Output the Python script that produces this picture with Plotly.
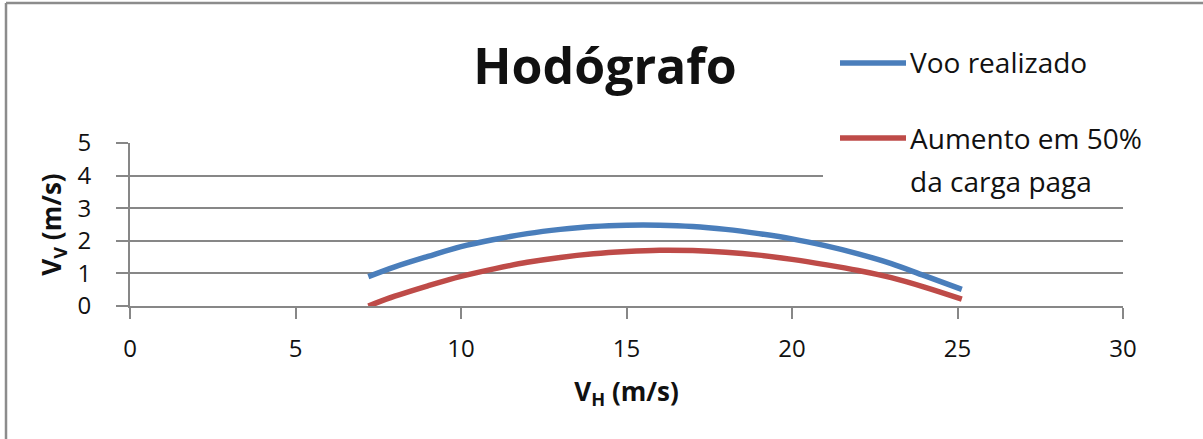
import plotly.graph_objects as go

# ---- data ----
vh_voo = [7.2, 8, 9, 10, 11, 12, 13, 14, 15, 16, 17, 18, 19, 20, 21, 22, 23, 24, 25.13]
vv_voo = [0.90, 1.20, 1.52, 1.82, 2.04, 2.22, 2.35, 2.44, 2.48, 2.48, 2.44, 2.35, 2.22, 2.06, 1.85, 1.60, 1.30, 0.93, 0.51]

vh_carga = [7.2, 8, 9, 10, 11, 12, 13, 14, 15, 16, 17, 18, 19, 20, 21, 22, 23, 24, 25.13]
vv_carga = [0.00, 0.30, 0.62, 0.91, 1.14, 1.34, 1.49, 1.60, 1.67, 1.71, 1.70, 1.65, 1.56, 1.43, 1.27, 1.09, 0.87, 0.58, 0.21]

series_names = ["Voo realizado", "Aumento em 50%", "da carga paga"]
x_ticks = [0, 5, 10, 15, 20, 25, 30]
y_ticks = [0, 1, 2, 3, 4, 5]

BLUE = "#4A7EBB"
RED = "#BE4B48"
GRID = "#878787"
FONT = "Open Sans"
TXT = "#111111"

W_FIG, H_FIG = 1203, 439
L, R, T, B = 130, 1123, 143, 306
PW, PH = R - L, B - T


def px(x):
    return (x - L) / PW


def py(y):
    return (B - y) / PH


fig = go.Figure()
fig.add_trace(go.Scatter(x=vh_voo, y=vv_voo, mode="lines", name=series_names[0],
                         line=dict(color=BLUE, width=5.5, shape="spline"), showlegend=False))
fig.add_trace(go.Scatter(x=vh_carga, y=vv_carga, mode="lines", name=series_names[1] + " " + series_names[2],
                         line=dict(color=RED, width=5.5, shape="spline"), showlegend=False))

shapes = [
    # white legend box covering gridlines
    dict(type="rect", xref="paper", yref="paper", x0=px(823), x1=px(1200), y0=py(192), y1=py(0),
         fillcolor="white", line=dict(width=0), layer="above"),
    # legend samples
    dict(type="line", xref="paper", yref="paper", x0=px(840), x1=px(906), y0=py(63), y1=py(63),
         line=dict(color=BLUE, width=5.5), layer="above"),
    dict(type="line", xref="paper", yref="paper", x0=px(840), x1=px(906), y0=py(138), y1=py(138),
         line=dict(color=RED, width=5.5), layer="above"),
    # chart-area border (left & top)
    dict(type="line", xref="paper", yref="paper", x0=px(6), x1=px(6), y0=py(3), y1=py(460),
         line=dict(color="#8c8c8c", width=2.5), layer="above"),
    dict(type="line", xref="paper", yref="paper", x0=px(6), x1=px(1220), y0=py(3), y1=py(3),
         line=dict(color="#8c8c8c", width=2.5), layer="above"),
]

annotations = [
    dict(text=series_names[0], xref="paper", yref="paper", x=px(908), y=py(62),
         xanchor="left", yanchor="middle", showarrow=False,
         font=dict(family=FONT, size=28, color=TXT)),
    dict(text=series_names[1], xref="paper", yref="paper", x=px(908), y=py(138),
         xanchor="left", yanchor="middle", showarrow=False,
         font=dict(family=FONT, size=28, color=TXT)),
    dict(text=series_names[2], xref="paper", yref="paper", x=px(908), y=py(181),
         xanchor="left", yanchor="middle", showarrow=False,
         font=dict(family=FONT, size=28, color=TXT)),
]

fig.update_layout(
    width=W_FIG, height=H_FIG,
    margin=dict(l=L, r=W_FIG - R, t=T, b=H_FIG - B, autoexpand=False),
    paper_bgcolor="white", plot_bgcolor="white",
    title=dict(text="<b>Hodógrafo</b>", x=605 / W_FIG, xanchor="center",
               y=(H_FIG - 66) / H_FIG, yanchor="middle",
               font=dict(family=FONT, size=50, color=TXT)),
    shapes=shapes, annotations=annotations, showlegend=False,
    font=dict(family=FONT, color=TXT),
)

fig.update_xaxes(
    range=[0, 30], tickvals=x_ticks, ticktext=[str(v) for v in x_ticks],
    showgrid=False, zeroline=False,
    showline=True, linecolor=GRID, linewidth=2,
    ticks="outside", ticklen=11, tickwidth=2, tickcolor=GRID,
    tickfont=dict(family=FONT, size=24, color=TXT), ticklabelstandoff=9,
    title=dict(text="<b>V<sub>H</sub> (m/s)</b>", standoff=20,
               font=dict(family=FONT, size=26, color=TXT)),
    automargin=False,
)
fig.update_yaxes(
    range=[0, 5], tickvals=y_ticks, ticktext=[str(v) for v in y_ticks],
    showgrid=True, gridcolor=GRID, gridwidth=2, zeroline=False,
    showline=True, linecolor=GRID, linewidth=2,
    ticks="outside", ticklen=12, tickwidth=2, tickcolor=GRID,
    tickfont=dict(family=FONT, size=24, color=TXT), ticklabelstandoff=20,
    title=dict(text="<b>V<sub>V</sub> (m/s)</b>", standoff=8,
               font=dict(family=FONT, size=26, color=TXT)),
    automargin=False,
)

fig.write_html("out.html")
